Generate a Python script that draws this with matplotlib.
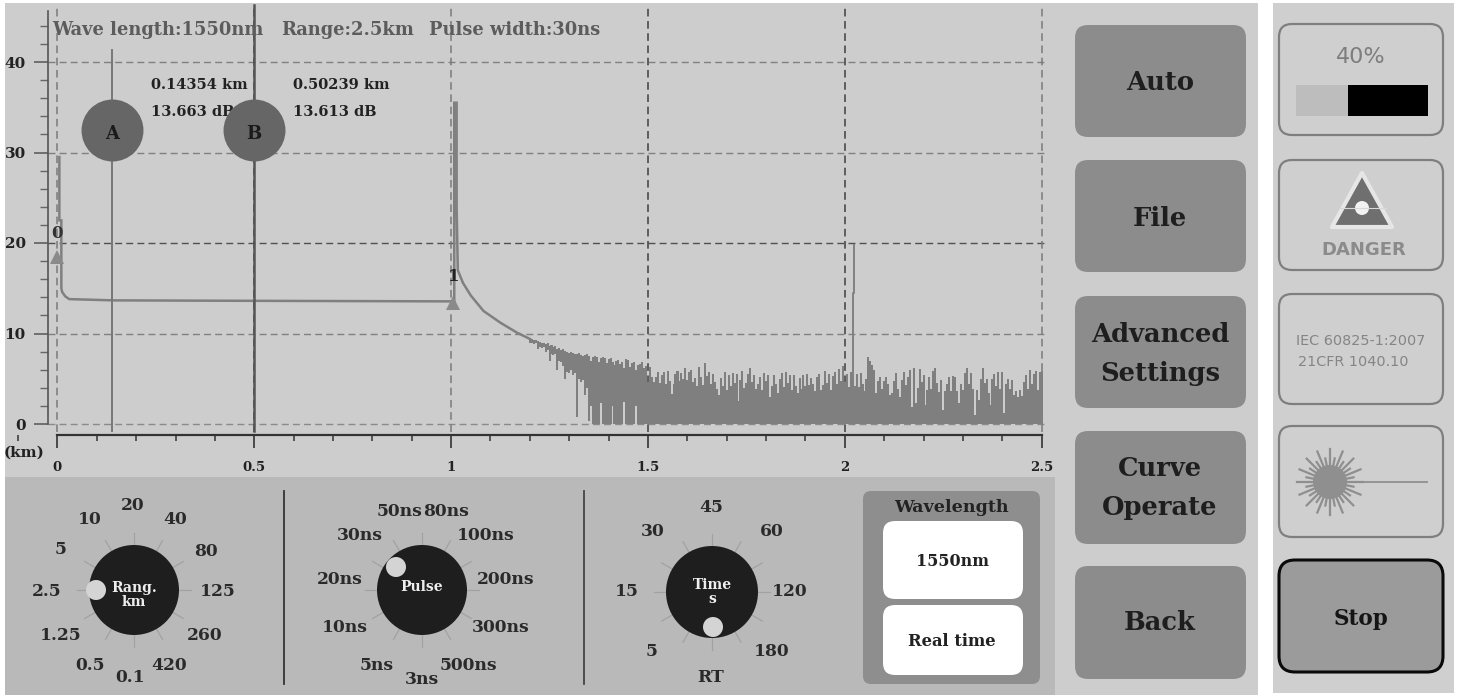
import matplotlib.pyplot as plt
import numpy as np
from matplotlib.patches import Circle, FancyBboxPatch, Polygon, Rectangle
from matplotlib.ticker import MultipleLocator

plt.rcParams['font.family'] = ['DejaVu Serif']

# smooth part of the trace, launch pulse and the first event
trace_km = [0.005, 0.005, 0.010, 0.010, 0.012, 0.020, 0.030, 0.143, 0.502, 1.000, 1.008, 1.008, 1.014, 1.014,
            1.017, 1.030, 1.050, 1.082, 1.125, 1.167, 1.200]
trace_db = [29.5, 22.5, 22.5, 15.0, 14.6, 14.1, 13.8, 13.66, 13.61, 13.55, 13.5, 35.5, 35.5, 24.0,
            17.0, 15.6, 14.2, 12.5, 11.2, 10.1, 9.4]
# second reflection
event_km = [2.020, 2.020, 2.023, 2.023]
event_db = [0.0, 14.5, 14.5, 19.8]

# noisy tail, one value every 0.005 km starting at 1.20
noise_start = 1.20
noise_top = [9.4, 9.4, 9.3, 9.3, 9.2, 9.1, 9.0, 9.0, 8.8, 8.9,
             8.6, 8.7, 8.5, 8.6, 8.3, 8.4, 8.2, 8.3, 8.1, 8.0,
             7.9, 8.0, 7.8, 7.7, 7.7, 7.8, 7.6, 7.5, 7.6, 7.7,
             7.5, 7.0, 7.4, 7.5, 7.4, 6.8, 7.3, 7.4, 7.3, 6.7,
             7.2, 7.3, 6.8, 6.5, 7.0, 7.1, 6.6, 6.8, 6.2, 7.2,
             7.1, 6.3, 6.7, 6.9, 6.0, 6.5, 6.6, 6.9, 6.2, 6.4,
             4.6, 6.3, 5.2, 4.6, 5.2, 5.7, 4.5, 5.4, 5.8, 4.4,
             5.9, 4.7, 3.3, 4.4, 5.5, 5.9, 4.8, 5.6, 5.0, 6.2,
             4.9, 5.7, 6.0, 4.6, 5.1, 4.2, 6.3, 5.2, 4.3, 6.7,
             5.3, 5.8, 4.4, 5.5, 4.6, 3.9, 3.2, 5.1, 4.2, 5.8,
             3.8, 5.4, 4.2, 5.6, 4.5, 5.5, 2.5, 4.9, 5.9, 4.0,
             4.5, 5.5, 6.2, 4.6, 5.4, 3.9, 4.4, 5.2, 3.8, 5.6,
             4.7, 5.4, 3.0, 4.2, 5.4, 4.4, 3.4, 5.0, 5.6, 4.1,
             5.8, 4.5, 5.4, 3.8, 5.4, 4.2, 3.4, 5.1, 3.9, 5.4,
             4.2, 5.5, 4.3, 5.1, 4.4, 3.6, 5.2, 5.5, 3.8, 4.3,
             5.9, 4.5, 5.5, 3.8, 5.3, 5.7, 4.4, 6.1, 4.7, 6.4,
             4.6, 5.5, 4.1, 5.8, 5.0, 4.2, 5.5, 4.1, 5.6, 4.4,
             3.6, 5.0, 7.4, 7.0, 6.5, 6.0, 3.4, 4.8, 5.2, 3.9,
             4.7, 5.2, 4.4, 3.2, 3.4, 4.8, 5.6, 3.9, 3.0, 4.9,
             5.8, 4.3, 5.2, 6.0, 1.9, 6.2, 2.3, 4.0, 6.1, 4.6,
             5.4, 2.1, 3.8, 5.2, 3.9, 5.9, 6.2, 4.5, 3.5, 4.9,
             1.6, 3.7, 4.4, 5.2, 3.6, 5.3, 5.2, 3.6, 2.3, 4.4,
             3.8, 5.6, 6.2, 4.4, 5.6, 3.9, 1.0, 3.8, 2.6, 5.0,
             6.2, 4.5, 5.0, 3.4, 2.1, 5.0, 5.5, 4.2, 5.8, 3.9,
             5.8, 1.2, 4.4, 5.0, 3.9, 4.9, 3.2, 3.6, 3.0, 3.8,
             3.1, 4.6, 5.4, 3.9, 6.0, 4.4, 5.5, 5.9, 3.8, 5.8, 5.9]
noise_bottom = [8.9, 9.0, 8.8, 8.9, 8.3, 8.5, 8.4, 8.5, 8.0, 8.2,
                7.0, 7.7, 7.6, 7.7, 6.0, 7.0, 6.8, 6.4, 5.0, 5.8,
                5.6, 6.0, 5.4, 5.6, 0.8, 5.0, 4.6, 4.9, 3.2, 4.0,
                0.3, 2.0, 0.0, 0.0, 0.0, 0.0, 2.3, 0.0, 0.0, 0.0,
                0.0, 0.0, 2.0, 0.0, 0.0, 0.0, 0.0, 0.0, 2.4, 0.0,
                0.0, 0.0, 0.0, 0.0, 2.0, 0.0, 0.0, 0.0, 0.0, 0.0] + [0.0] * 201

y_major = [0, 10, 20, 30, 40]
y_minor = [2, 4, 6, 8, 12, 14, 16, 18, 22, 24, 26, 28, 32, 34, 36, 38, 42, 44]
x_major = [0, 0.5, 1, 1.5, 2, 2.5]
x_labels = ['0', '0.5', '1', '1.5', '2', '2.5']
y_grid_colors = ['#8a8a8a', '#808080', '#505050', '#808080', '#808080']
x_grid_colors = ['#7a7a7a', '#404040', '#7a7a7a', '#404040', '#404040', '#7a7a7a']

cursor_km = [0.138, 0.4985]
cursor_names = ['A', 'B']
cursor_text = [['0.14354 km', '13.663 dB'], ['0.50239 km', '13.613 dB']]
event_marks_km = [0.0, 1.005]
event_marks_db = [18.4, 13.4]

range_labels = ['20', '40', '80', '125', '260', '420', '0.1', '0.5', '1.25', '2.5', '5', '10']
pulse_labels = ['50ns', '80ns', '100ns', '200ns', '300ns', '500ns', '3ns', '5ns', '10ns', '20ns', '30ns']
time_labels = ['45', '60', '120', '180', 'RT', '5', '15', '30']
button_labels = ['Auto', 'File', 'Advanced\nSettings', 'Curve\nOperate', 'Back']

fig = plt.figure(figsize=(14.59, 6.95), dpi=100, facecolor='white')

# whole-figure axes in pixels for the panels and widgets
ui = fig.add_axes([0, 0, 1, 1])
ui.set_xlim(0, 1459)
ui.set_ylim(695, 0)
ui.axis('off')


def rbox(x0, y0, x1, y1, fc, ec='none', lw=0, rad=12, z=1):
    ui.add_patch(FancyBboxPatch((x0 + rad, y0 + rad), x1 - x0 - 2 * rad, y1 - y0 - 2 * rad,
                                boxstyle='round,pad=%d,rounding_size=%d' % (rad, rad),
                                fc=fc, ec=ec, lw=lw, zorder=z))


def label(x, y, s, size=12, color='#222222', weight='normal', family=None, z=5, spacing=1.35):
    ui.text(x, y, s, ha='center', va='center', fontsize=size, color=color, weight=weight,
            family=family or 'DejaVu Serif', zorder=z, linespacing=spacing)


ui.add_patch(Rectangle((5, 3), 1050, 474, fc='#cdcdcd', ec='none'))
ui.add_patch(Rectangle((5, 477), 1050, 218, fc='#b9b9b9', ec='none'))
ui.add_patch(Rectangle((1055, 3), 203, 692, fc='#cdcdcd', ec='none'))
ui.add_patch(Rectangle((1273, 3), 181, 690, fc='#cfcfcf', ec='none'))


# dials
def dial(cx, cy, r, knob, labels, pos, title):
    for a in np.arange(0, 360, 30):
        ca, sa = np.cos(np.radians(a)), np.sin(np.radians(a))
        ui.plot([cx + r * ca, cx + (r + 12) * ca], [cy + r * sa, cy + (r + 12) * sa],
                color='#a2a2a2', lw=0.9, zorder=2)
    ui.add_patch(Circle((cx, cy), r, fc='#1e1e1e', ec='none', zorder=3))
    ui.add_patch(Circle(knob, 10, fc='#d4d4d4', ec='none', zorder=4))
    for s, p in zip(labels, pos):
        label(p[0], p[1], s, size=12.3, weight='bold', color='#2a2a2a')
    label(cx, cy + title[1], title[0], size=10, color='#eeeeee', weight='bold', z=6, spacing=1.0)


dial(134, 590, 45, (96, 590), range_labels,
     [(133, 506), (175, 519), (206, 551), (218, 592), (205, 635), (169, 666), (130, 678), (90, 666),
      (61, 635), (47, 592), (61, 550), (90, 519)], ('Rang.\nkm', 5))
dial(422, 590, 45, (396, 567), pulse_labels,
     [(400, 511), (446, 511), (486, 536), (506, 580), (501, 628), (468, 665), (422, 679), (377, 665),
      (345, 628), (340, 580), (360, 536)], ('Pulse', -3))
dial(712, 592, 46, (713, 627), time_labels,
     [(711, 507), (772, 531), (790, 592), (772, 652), (711, 677), (652, 652), (627, 592), (653, 531)],
     ('Time\ns', 0))
ui.plot([284, 284], [491, 684], color='#333333', lw=1.3)
ui.plot([584, 584], [491, 684], color='#444444', lw=1.3)

# wavelength box
rbox(863, 491, 1040, 684, '#8e8e8e', rad=8)
rbox(883, 521, 1023, 599, 'white', z=2)
rbox(883, 605, 1023, 675, 'white', z=2)
label(951, 508, 'Wavelength', size=12.6, weight='bold')
label(952, 562, '1550nm', size=11.5, weight='bold')
label(952, 641, 'Real time', size=11.8, weight='bold')

# menu buttons
button_tops = [25, 160, 296, 431, 566]
button_bottoms = [137, 272, 408, 544, 679]
button_mids = [82, 218, 354, 488, 623]
for s, t, b, m in zip(button_labels, button_tops, button_bottoms, button_mids):
    rbox(1075, t, 1246, b, '#8c8c8c', rad=13)
    label(1160, m, s, size=18.5, color='#1e1e1e', weight='bold', spacing=1.72)

# right hand status column
for t, b in [(24, 135), (160, 270), (294, 404), (426, 537)]:
    rbox(1279, t, 1443, b, '#cfcfcf', ec='#7f7f7f', lw=1.6, rad=13)
rbox(1279, 560, 1443, 672, '#9b9b9b', ec='#0a0a0a', lw=2.2, rad=16)
label(1361, 57, '40%', size=16, color='#7d7d7d', family='DejaVu Sans', z=5)
ui.add_patch(Rectangle((1296, 85), 52, 31, fc='#bdbdbd', ec='none', zorder=3))
ui.add_patch(Rectangle((1348, 85), 80, 31, fc='black', ec='none', zorder=3))
ui.add_patch(Polygon([(1362, 173), (1332, 227), (1392, 227)], closed=True, fc='#6f6f6f', ec='#e6e6e6',
                     lw=3, joinstyle='round', zorder=3))
ui.add_patch(Circle((1362, 208), 7, fc='#f2f2f2', ec='none', zorder=4))
ui.plot([1340, 1386], [208, 208], color='#d8d8d8', lw=0.8, zorder=4)
label(1364, 250, 'DANGER', size=13, color='#8b8b8b', weight='bold', family='DejaVu Sans')
label(1361, 341, 'IEC 60825-1:2007', size=10.4, color='#858585', family='DejaVu Sans')
label(1353, 362, '21CFR 1040.10', size=10.4, color='#858585', family='DejaVu Sans')
for i, a in enumerate(np.arange(0, 360, 11.25)):
    ray = 33 if i % 2 == 0 else 24
    ui.plot([1330, 1330 + ray * np.cos(np.radians(a))], [482, 482 + ray * np.sin(np.radians(a))],
            color='#8f8f8f', lw=1.6, zorder=3)
ui.add_patch(Circle((1330, 482), 17, fc='#8f8f8f', ec='none', zorder=3))
ui.plot([1330, 1427], [482, 482], color='#8f8f8f', lw=1.3, zorder=3)
label(1361, 619, 'Stop', size=15.5, color='#151515', weight='bold')

# the trace itself, on its own axes lined up with the grey panel
ax = fig.add_axes([5 / 1459, (695 - 477) / 695, 1050 / 1459, 474 / 695])
ax.patch.set_alpha(0)
ax.set_xlim(-52.4 / 393.7, 997.6 / 393.7)
ax.set_ylim(-53 / 9.05, 421 / 9.05)

for y, c in zip(y_major, y_grid_colors):
    ax.plot([-0.025, 2.513], [y, y], color=c, lw=1, ls=(0, (5, 3)), zorder=1)
for x, c in zip(x_major, x_grid_colors):
    ax.plot([x, x], [-0.9, 46.3], color=c, lw=1.1, ls=(0, (5, 3)), zorder=1)

noise_km = noise_start + 0.005 * np.arange(len(noise_top))
noise_top = np.array(noise_top)
noise_bottom = np.array(noise_bottom)
ax.bar(noise_km, noise_top - noise_bottom, bottom=noise_bottom, width=0.0052, color='#7f7f7f', lw=0, zorder=2)
ax.plot(trace_km, trace_db, color='#808080', lw=1.8, solid_joinstyle='miter', zorder=3)
ax.plot(event_km, event_db, color='#808080', lw=1.4, zorder=3)

# cursors
ax.plot([cursor_km[0]] * 2, [-0.8, 41.3], color='#777777', lw=1.4, zorder=4)
ax.plot([cursor_km[1]] * 2, [-0.8, 46.3], color='#555555', lw=1.8, zorder=4)
for k, n, t in zip(cursor_km, cursor_names, cursor_text):
    ax.text(k + 0.1, 37.5, t[0], fontsize=10.5, weight='bold', color='#222222', va='center', zorder=3)
    ax.text(k + 0.1, 34.45, t[1], fontsize=10.5, weight='bold', color='#222222', va='center', zorder=3)
    ax.plot([k], [32.5], 'o', ms=44.6, color='#666666', mew=0, zorder=5)
    ax.text(k, 32, n, fontsize=13, weight='bold', color='#1a1a1a', ha='center', va='center', zorder=6)

# event markers
ax.plot(event_marks_km, event_marks_db, '^', ms=10, color='#8a8a8a', mew=0, zorder=5)
ax.text(0, 21.0, '0', fontsize=12, weight='bold', color='#333333', ha='center', va='center', zorder=6)
ax.text(1.008, 16.3, '1', fontsize=12, weight='bold', color='#222222', ha='center', va='center', zorder=6)

ax.text(-0.013, 43.5, 'Wave length:1550nm', fontsize=12.9, weight='bold', color='#5c5c5c', va='center', zorder=6)
ax.text(0.568, 43.5, 'Range:2.5km', fontsize=12.9, weight='bold', color='#5c5c5c', va='center', zorder=6)
ax.text(0.945, 43.5, 'Pulse width:30ns', fontsize=12.9, weight='bold', color='#5c5c5c', va='center', zorder=6)
ax.text(-0.084, -3.2, '(km)', fontsize=10.9, weight='bold', color='#222222', ha='center', va='center')

# axes drawn where the instrument draws them
for s in ['top', 'right']:
    ax.spines[s].set_visible(False)
ax.spines['left'].set_position(('data', -0.0238))
ax.spines['left'].set_bounds(0, 45.6)
ax.spines['left'].set_color('#555555')
ax.spines['left'].set_linewidth(1.2)
ax.spines['bottom'].set_position(('data', -1.2))
ax.spines['bottom'].set_bounds(0, 2.5)
ax.spines['bottom'].set_color('#333333')
ax.spines['bottom'].set_linewidth(1.6)
ax.set_xticks(x_major)
ax.set_xticklabels(x_labels)
ax.set_yticks(y_major)
ax.set_yticks(y_minor, minor=True)
ax.xaxis.set_minor_locator(MultipleLocator(0.1))
ax.tick_params(axis='y', which='major', length=10, width=1.1, color='#555555', pad=6, labelsize=11,
               labelcolor='#222222')
ax.tick_params(axis='y', which='minor', length=6, width=1, color='#666666')
ax.tick_params(axis='x', which='major', length=9, width=1.2, color='#333333', pad=10, labelsize=9.5,
               labelcolor='#222222')
ax.tick_params(axis='x', which='minor', length=4, width=1.1, color='#333333')
for t in ax.get_xticklabels() + ax.get_yticklabels():
    t.set_fontweight('bold')

plt.savefig('out.png', dpi=100)
